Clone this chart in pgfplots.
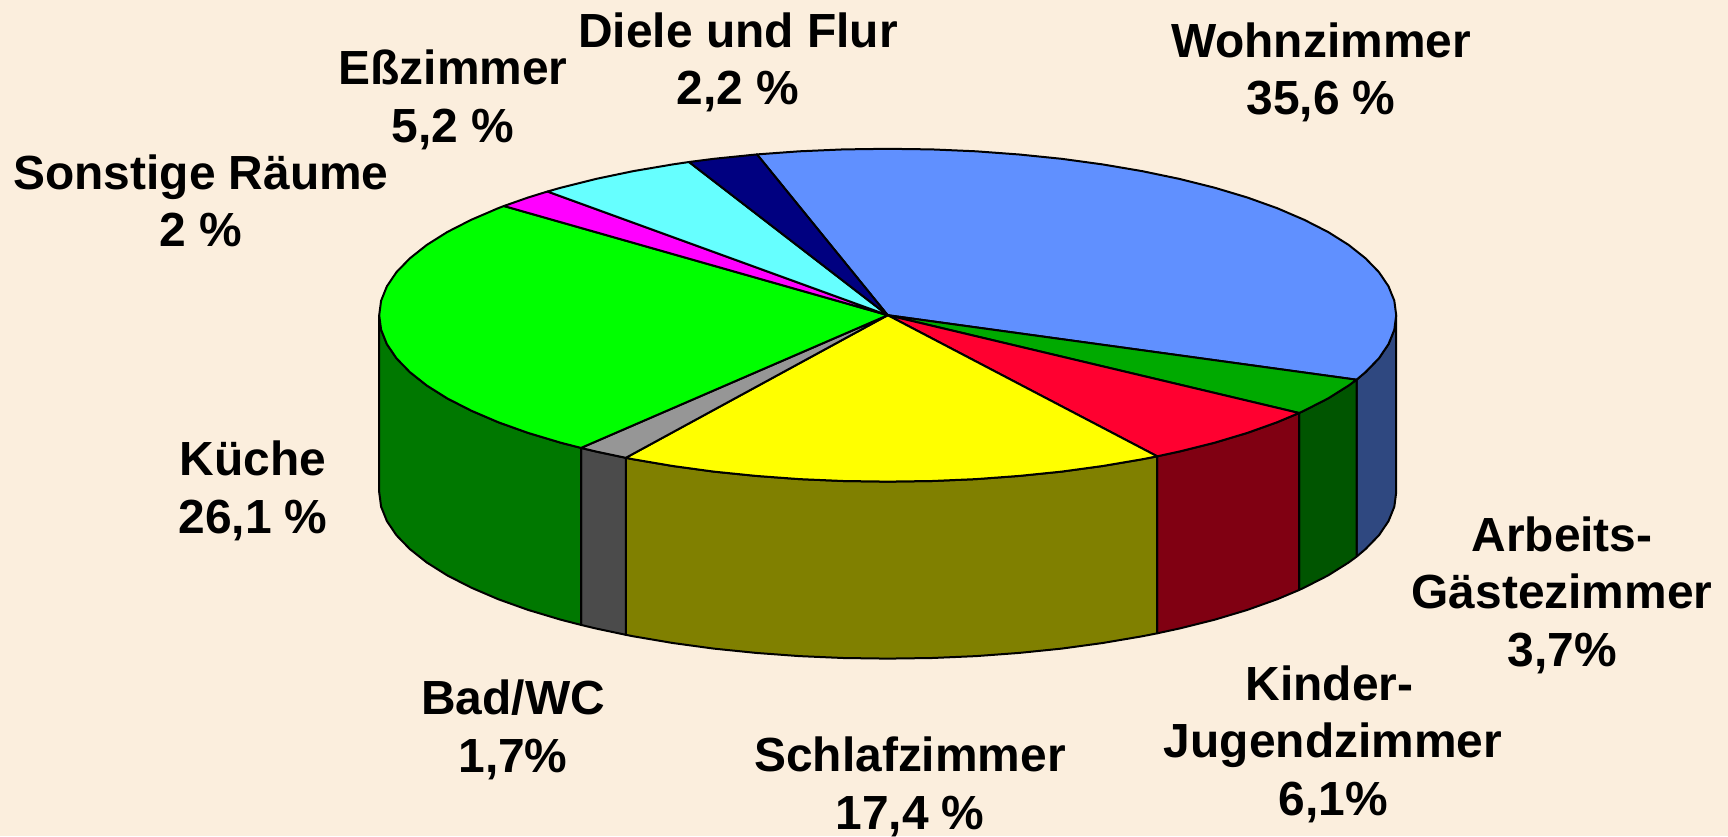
\documentclass[border=0pt]{standalone}
\usepackage{fontspec}
\setmainfont{Liberation Sans}
\usepackage{pgfplots}
\pgfplotsset{compat=1.18}

\definecolor{bg}{HTML}{FBEEDD}
\definecolor{wohn}{HTML}{6090FF}
\definecolor{wohnside}{HTML}{2F4880}
\definecolor{arbeit}{HTML}{00AA00}
\definecolor{arbeitside}{HTML}{005500}
\definecolor{kinder}{HTML}{FF0030}
\definecolor{kinderside}{HTML}{800012}
\definecolor{schlaf}{HTML}{FFFF00}
\definecolor{schlafside}{HTML}{808000}
\definecolor{bad}{HTML}{969696}
\definecolor{badside}{HTML}{4B4B4B}
\definecolor{kueche}{HTML}{00FF00}
\definecolor{kuecheside}{HTML}{007800}
\definecolor{sonst}{HTML}{FF00FF}
\definecolor{ess}{HTML}{66FFFF}
\definecolor{diele}{HTML}{000080}

\tikzset{lbl/.style={font=\fontsize{47.9}{57.5}\selectfont\bfseries, align=center, inner sep=0pt, text=black}}

\begin{document}
\begin{tikzpicture}[x=1pt,y=1pt]
  \fill[bg] (0,0) rectangle (1728,836);
  \begin{axis}[
      at={(0,0)}, anchor=south west,
      scale only axis,
      width=1728pt, height=836pt,
      xmin=0, xmax=1728,
      ymin=0, ymax=836,
      y dir=reverse,
      hide axis,
      clip=false,
      every axis plot/.append style={draw=black, line width=2pt, line join=round},
    ]
    % side walls, top arc then bottom arc (top y + 177)
    \addplot[fill=wohnside] coordinates {
      (1356.5,379.7) (1365.5,372.1) (1378.9,358.3) (1388.5,344.1) (1394.3,329.7) (1396.2,315.2)
      (1396.2,492.2) (1394.3,506.7) (1388.5,521.1) (1378.9,535.3) (1365.5,549.1) (1356.5,556.7)
    } -- cycle;
    \addplot[fill=arbeitside] coordinates {
      (1299.1,413.0) (1304.2,410.6) (1328.1,398.4) (1348.6,385.5) (1356.5,379.7)
      (1356.5,556.7) (1348.6,562.5) (1328.1,575.4) (1304.2,587.6) (1299.1,590.0)
    } -- cycle;
    \addplot[fill=kinderside] coordinates {
      (1157.2,456.3) (1179.4,451.5) (1214.6,442.7) (1247.3,432.9) (1277.2,422.2) (1299.1,413.0)
      (1299.1,590.0) (1277.2,599.2) (1247.3,609.9) (1214.6,619.7) (1179.4,628.5) (1157.2,633.3)
    } -- cycle;
    \addplot[fill=schlafside] coordinates {
      (625.8,457.8) (633.4,459.3) (672.8,466.0) (713.8,471.6) (756.1,475.9) (799.4,479.1) (843.4,481.0)
      (887.7,481.6) (932.0,481.0) (976.0,479.1) (1019.3,475.9) (1061.6,471.6) (1102.6,466.0) (1142.0,459.3) (1157.2,456.3)
      (1157.2,633.3) (1142.0,636.3) (1102.6,643.0) (1061.6,648.6) (1019.3,652.9) (976.0,656.1) (932.0,658.0) (887.7,658.6)
      (843.4,658.0) (799.4,656.1) (756.1,652.9) (713.8,648.6) (672.8,643.0) (633.4,636.3) (625.8,634.8)
    } -- cycle;
    \addplot[fill=badside] coordinates {
      (581.0,447.9) (596.0,451.5) (625.8,457.8)
      (625.8,634.8) (596.0,628.5) (581.0,624.9)
    } -- cycle;
    \addplot[fill=kuecheside] coordinates {
      (379.2,315.2) (381.1,329.7) (386.9,344.1) (396.5,358.3) (409.9,372.1) (426.8,385.5) (447.3,398.4)
      (471.2,410.6) (498.2,422.2) (528.1,432.9) (560.8,442.7) (581.0,447.9)
      (581.0,624.9) (560.8,619.7) (528.1,609.9) (498.2,599.2) (471.2,587.6) (447.3,575.4) (426.8,562.5)
      (409.9,549.1) (396.5,535.3) (386.9,521.1) (381.1,506.7) (379.2,492.2)
    } -- cycle;
    % top slices: Wohnzimmer 35.6, Arbeits 3.7, Kinder 6.1, Schlaf 17.4, Bad 1.7, Kueche 26.1, Sonstige 2, Ess 5.2, Diele 2.2
    \addplot[fill=wohn] coordinates {
      (887.7,315.2) (757.0,154.4) (799.4,151.3) (843.4,149.4) (887.7,148.8) (932.0,149.4) (976.0,151.3)
      (1019.3,154.5) (1061.6,158.8) (1102.6,164.4) (1142.0,171.1) (1179.4,178.9) (1214.6,187.7) (1247.3,197.5)
      (1277.2,208.2) (1304.2,219.8) (1328.1,232.0) (1348.6,244.9) (1365.5,258.3) (1378.9,272.1) (1388.5,286.3)
      (1394.3,300.7) (1396.2,315.2) (1394.3,329.7) (1388.5,344.1) (1378.9,358.3) (1365.5,372.1) (1356.5,379.7)
    } -- cycle;
    \addplot[fill=arbeit] coordinates {
      (887.7,315.2) (1356.5,379.7) (1348.6,385.5) (1328.1,398.4) (1304.2,410.6) (1299.1,413.0)
    } -- cycle;
    \addplot[fill=kinder] coordinates {
      (887.7,315.2) (1299.1,413.0) (1277.2,422.2) (1247.3,432.9) (1214.6,442.7) (1179.4,451.5) (1157.2,456.3)
    } -- cycle;
    \addplot[fill=schlaf] coordinates {
      (887.7,315.2) (1157.2,456.3) (1142.0,459.3) (1102.6,466.0) (1061.6,471.6) (1019.3,475.9) (976.0,479.1) (932.0,481.0)
      (887.7,481.6) (843.4,481.0) (799.4,479.1) (756.1,475.9) (713.8,471.6) (672.8,466.0) (633.4,459.3) (625.8,457.8)
    } -- cycle;
    \addplot[fill=bad] coordinates {
      (887.7,315.2) (625.8,457.8) (596.0,451.5) (581.0,447.9)
    } -- cycle;
    \addplot[fill=kueche] coordinates {
      (887.7,315.2) (581.0,447.9) (560.8,442.7) (528.1,432.9) (498.2,422.2) (471.2,410.6) (447.3,398.4) (426.8,385.5)
      (409.9,372.1) (396.5,358.3) (386.9,344.1) (381.1,329.7) (379.2,315.2) (381.1,300.7) (386.9,286.3) (396.5,272.1)
      (409.9,258.3) (426.8,244.9) (447.3,232.0) (471.2,219.8) (498.2,208.2) (503.9,206.0)
    } -- cycle;
    \addplot[fill=sonst] coordinates {
      (887.7,315.2) (503.9,206.0) (528.1,197.5) (547.5,191.5)
    } -- cycle;
    \addplot[fill=ess] coordinates {
      (887.7,315.2) (547.5,191.5) (560.8,187.7) (596.0,178.9) (633.4,171.1) (672.8,164.4) (689.0,162.0)
    } -- cycle;
    \addplot[fill=diele] coordinates {
      (887.7,315.2) (689.0,162.0) (713.8,158.8) (757.0,154.4)
    } -- cycle;

    \node[lbl] at (axis cs:1321,72.5) {Wohnzimmer\\35,6 \%};
    \node[lbl] at (axis cs:738,62.5) {Diele und Flur\\2,2 \%};
    \node[lbl] at (axis cs:453,100) {Eßzimmer\\5,2 \%};
    \node[lbl] at (axis cs:201,201) {Sonstige Räume\\2 \%};
    \node[lbl] at (axis cs:253,491) {Küche\\26,1 \%};
    \node[lbl] at (axis cs:513,730) {Bad/WC\\1,7\%};
    \node[lbl] at (axis cs:910,787) {Schlafzimmer\\17,4 \%};
    \node[lbl] at (axis cs:1333,744) {Kinder-\hspace*{7pt}\\Jugendzimmer\\6,1\%};
    \node[lbl] at (axis cs:1562,595) {Arbeits-\\Gästezimmer\\3,7\%};
  \end{axis}
\end{tikzpicture}
\end{document}
